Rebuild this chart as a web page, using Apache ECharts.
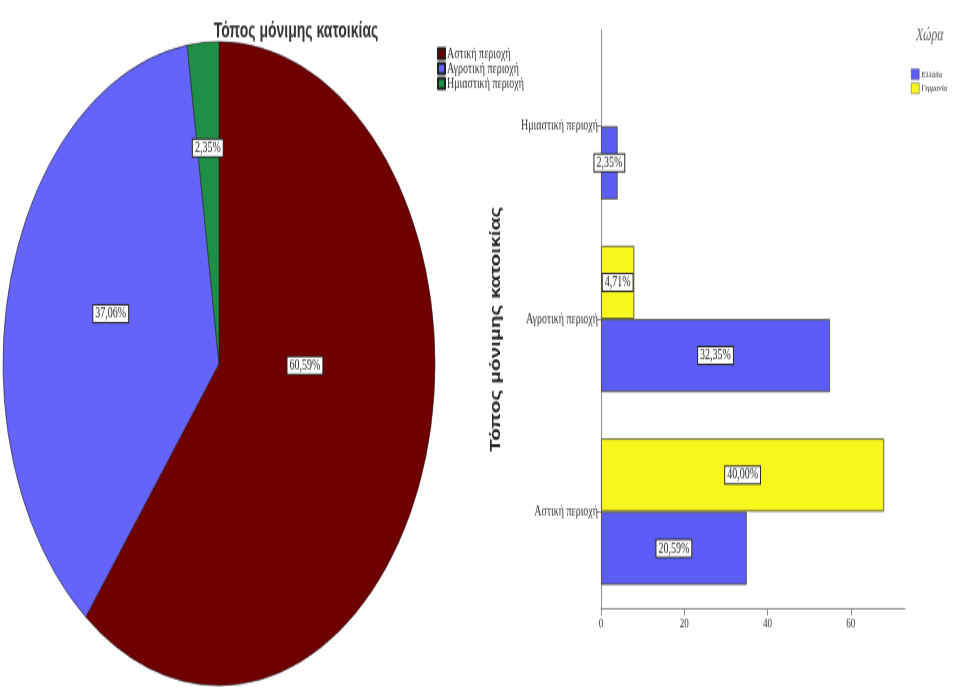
<!DOCTYPE html>
<html>
<head>
<meta charset="utf-8">
<title>Τόπος μόνιμης κατοικίας</title>
<script src="https://cdn.jsdelivr.net/npm/echarts@6/dist/echarts.min.js"></script>
<style>
  html, body { margin: 0; padding: 0; background: #ffffff; }
  #frame { width: 960px; height: 687px; overflow: hidden; }
  /* the chart is laid out on a 960x461 board and stretched to the full page height */
  #chart { width: 960px; height: 461px; transform: scaleY(1.4903); transform-origin: 0 0; }
</style>
</head>
<body>
<div id="frame"><div id="chart"></div></div>
<script>
// Place of permanent residence, by country (counts)
const categories = ['Αστική περιοχή', 'Αγροτική περιοχή', 'Ημιαστική περιοχή'];
const countries = ['Ελλάδα', 'Γερμανία'];
const greece = [35, 55, 4];
const germany = [68, 8, 0];
const xTicks = [0, 20, 40, 60];

const total = greece.concat(germany).reduce((a, b) => a + b, 0);
const regionTotals = categories.map((c, i) => greece[i] + germany[i]);

const pieColors = ['#6e0000', '#6464fa', '#1f8f48'];
const barColors = { 'Ελλάδα': '#5c5cf6', 'Γερμανία': '#f7f71e' };

const pct = v => (v / total * 100).toFixed(2).replace('.', ',') + '%';
const boxLabel = {
  backgroundColor: '#ffffff',
  borderColor: '#2a2a2a',
  borderWidth: 1,
  padding: [1, 2, 0, 2],
  fontFamily: 'Liberation Serif',
  fontSize: 10,
  color: '#222'
};

// label nudges inside the pie slices
const pieLabelOffsets = [[-19, -35], [-1, -5], [-3, -34]];

const chart = echarts.init(document.getElementById('chart'), null, { renderer: 'canvas' });

const barSeries = (name, values) => ({
  name: name,
  type: 'bar',
  xAxisIndex: 0,
  yAxisIndex: 0,
  barGap: '0%',
  barCategoryGap: '24%',
  itemStyle: { color: barColors[name], borderColor: '#55553a', borderWidth: 0.9 },
  label: Object.assign({ show: true, position: 'inside', formatter: p => pct(p.value) }, boxLabel),
  data: values.map(v => (v === 0 ? '-' : v))
});

chart.setOption({
  animation: false,
  backgroundColor: '#ffffff',
  title: {
    text: 'Τόπος μόνιμης κατοικίας',
    left: 291,
    top: 9,
    textAlign: 'center',
    z: 10,
    textStyle: { fontFamily: 'Liberation Sans', fontWeight: 'bold', fontSize: 14, color: '#333' }
  },
  legend: [
    {
      data: categories,
      orient: 'vertical',
      left: 432,
      top: 26,
      itemWidth: 7,
      itemHeight: 7,
      itemGap: 0,
      icon: 'rect',
      textStyle: { fontFamily: 'Liberation Serif', fontSize: 10, lineHeight: 10, color: '#333', padding: [0, 0, 0, -3] }
    },
    {
      data: countries,
      orient: 'vertical',
      left: 906,
      top: 41,
      itemWidth: 8,
      itemHeight: 7,
      itemGap: 2,
      icon: 'rect',
      itemStyle: { borderColor: '#555', borderWidth: 0.5 },
      textStyle: { fontFamily: 'Liberation Serif', fontStyle: 'italic', fontSize: 7, color: '#333', padding: [0, 0, 0, -3] }
    }
  ],
  graphic: [{
    type: 'text',
    left: 916,
    top: 18,
    style: { text: 'Χώρα', font: 'italic 12px "Liberation Serif"', fill: '#666' }
  }],
  grid: { left: 601, right: 55, top: 20, bottom: 53 },
  xAxis: {
    type: 'value',
    min: 0,
    max: 73,
    interval: 20,
    axisLine: { show: true, lineStyle: { color: '#8a8a8a', width: 1 } },
    axisTick: { show: true, length: 5, customValues: xTicks, lineStyle: { color: '#8a8a8a' } },
    axisLabel: { customValues: xTicks, margin: 6, fontFamily: 'Liberation Serif', fontSize: 9, color: '#333' },
    splitLine: { show: false }
  },
  yAxis: {
    type: 'category',
    data: categories,
    name: 'Τόπος μόνιμης κατοικίας',
    nameLocation: 'middle',
    nameGap: 98,
    nameTextStyle: { fontFamily: 'Liberation Sans', fontWeight: 'bold', fontSize: 14, color: '#222', padding: [0, 0, 0, -14] },
    axisLine: { show: true, lineStyle: { color: '#8a8a8a', width: 1 } },
    axisTick: { show: true, alignWithLabel: true, length: 4, lineStyle: { color: '#8a8a8a' } },
    axisLabel: { margin: 3, fontFamily: 'Liberation Serif', fontSize: 10, color: '#333' }
  },
  series: [
    {
      name: 'Τόπος μόνιμης κατοικίας',
      type: 'pie',
      center: [219, 244],
      radius: 216,
      startAngle: 90,
      clockwise: true,
      legendHoverLink: false,
      itemStyle: { borderColor: '#222', borderWidth: 0.6 },
      label: Object.assign({ show: true, position: 'inside', formatter: p => p.percent.toFixed(2).replace('.', ',') + '%' }, boxLabel),
      labelLine: { show: false },
      data: categories.map((c, i) => ({
        name: c,
        value: regionTotals[i],
        itemStyle: { color: pieColors[i] },
        label: { offset: pieLabelOffsets[i] }
      }))
    },
    barSeries('Γερμανία', germany),
    barSeries('Ελλάδα', greece)
  ]
});
</script>
</body>
</html>
